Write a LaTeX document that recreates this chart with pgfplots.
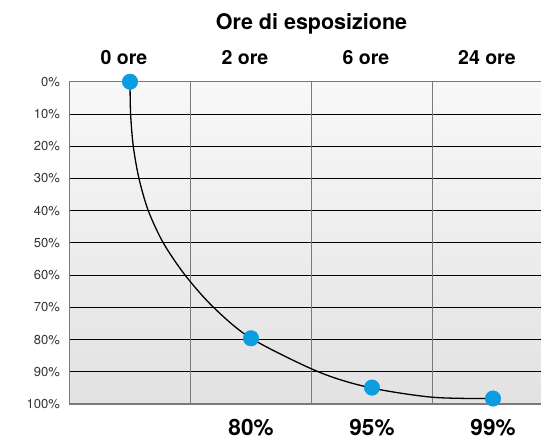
\documentclass[border=0pt]{standalone}
\usepackage{pgfplots}
\pgfplotsset{compat=1.18}
\usepackage{fontspec}
\setmainfont{TeX Gyre Heros}
\definecolor{dotblue}{HTML}{0A9EE0}
\definecolor{gridgray}{HTML}{7A7A7A}
\definecolor{bgtop}{HTML}{F8F8F8}
\definecolor{bgbot}{HTML}{E2E2E2}
\begin{document}
\begin{tikzpicture}[x=1pt,y=1pt]
\path[use as bounding box] (0,0) rectangle (541,440);
\begin{axis}[
    at={(69.5pt,36pt)}, anchor=south west,
    scale only axis, width=484pt, height=322.3pt,
    xmin=-0.5, xmax=3.5, ymin=0, ymax=100, y dir=reverse,
    clip=false,
    axis background/.style={top color=bgtop, bottom color=bgbot},
    axis line style={draw=gridgray, line width=1.2pt},
    xtick=\empty,
    extra x ticks={0.5,1.5,2.5},
    extra x tick labels={},
    extra x tick style={grid=major, major tick length=0pt,
        major grid style={draw=gridgray, line width=1.3pt}},
    ytick={0,10,...,100},
    yticklabels={0\%,10\%,20\%,30\%,40\%,50\%,60\%,70\%,80\%,90\%,100\%},
    yticklabel style={font=\fontsize{13}{13}\selectfont, text=black!80, xshift=-6pt},
    major tick length=0pt,
    ymajorgrids=true,
    y grid style={black, line width=0.8pt},
]
% curve
\addplot[black, line width=1.3pt, smooth] coordinates {
    (0,0) (0.005,10) (0.027,20) (0.074,30) (0.151,40) (0.275,50)
    (0.455,60) (0.69,70) (1.0,79.6) (1.556,90) (1.98,94.9)
    (2.5,97.9) (2.99,98.3)
};
\addplot[only marks, mark=*, mark size=7.8pt, color=dotblue] coordinates {
    (0,0) (1,79.6) (2,94.9) (3,98.3)
};
% column headers and title
\node[anchor=base, font=\bfseries\fontsize{21.5}{21.5}\selectfont]
    at (axis cs:1.5,0) [yshift=52.4pt] {Ore di esposizione};
\foreach \c/\t in {0/0 ore,1/2 ore,2/6 ore,3/24 ore}{
    \edef\tmp{\noexpand\node[anchor=base, xshift=-6pt, yshift=17.7pt,
        font=\noexpand\bfseries\noexpand\fontsize{19.5}{19.5}\noexpand\selectfont]
        at (axis cs:\c,0) {\t};}
    \tmp
}
% bottom percentages
\node[anchor=base, yshift=-31pt, font=\bfseries\fontsize{22.5}{22.5}\selectfont]
    at (axis cs:1,100) {80\%};
\node[anchor=base, yshift=-31pt, font=\bfseries\fontsize{22.5}{22.5}\selectfont]
    at (axis cs:2,100) {95\%};
\node[anchor=base, yshift=-31pt, font=\bfseries\fontsize{22.5}{22.5}\selectfont]
    at (axis cs:3,100) {99\%};
\end{axis}
\end{tikzpicture}
\end{document}
